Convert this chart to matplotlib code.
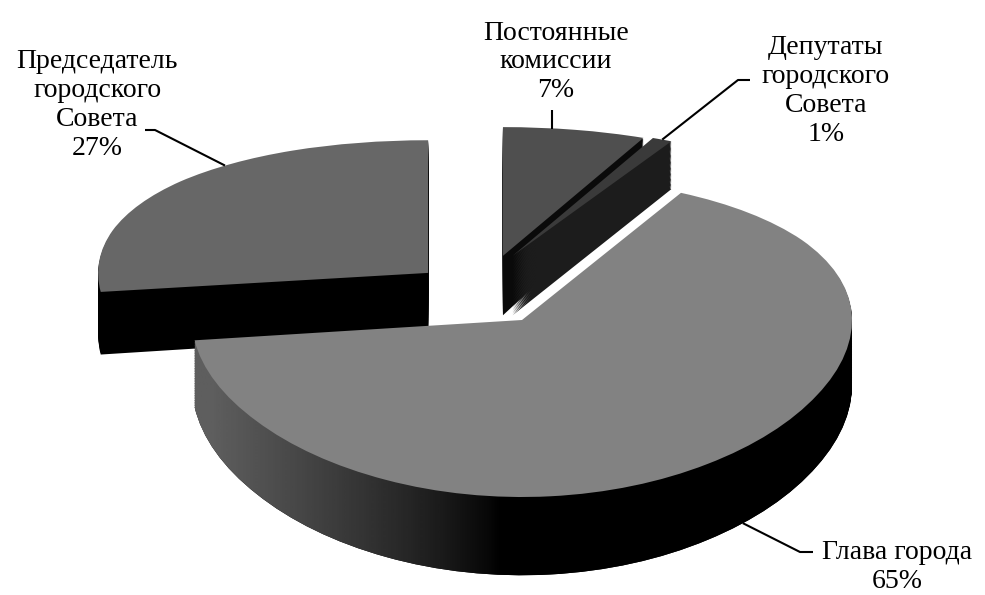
import numpy as np
import matplotlib
matplotlib.use("Agg")
import matplotlib.pyplot as plt
from matplotlib.path import Path

# ---- data ----
labels = ["Постоянные\nкомиссии", "Депутаты\nгородского\nСовета",
          "Глава города", "Председатель\nгородского\nСовета"]
values = [7, 1, 65, 27]
explode = [0.43, 0.47, 0.0, 0.46]
top_colors = ["#4f4f4f", "#3a3a3a", "#828282", "#676767"]
side_colors = ["#0a0a0a", "#1c1c1c", "#030303", "#000000"]
draw_order = [3, 0, 1, 2]   # back to front

W, H = 985, 595
fig = plt.figure(figsize=(W / 100, H / 100), dpi=100)
ax = fig.add_axes([0, 0, 1, 1])

# viewing geometry (pixels)
cx, cy, rx = 522, 320, 330
A, B = 160.0, 17.0          # vertical projection p(y) = A*y - B*y^2 (perspective)
depth = 0.39
n_layers = 40
dz = depth / n_layers
# horizontal placement of each exploded slice (perspective correction, pixels)
x_shift_px = [-50, -80, 0, 20]


def fwd(y):
    y = np.asarray(y, dtype=float)
    return A * y - B * y ** 2


def inv(p):
    p = np.asarray(p, dtype=float)
    d = np.clip(A * A - 4 * B * p, 0, None)
    return (A - np.sqrt(d)) / (2 * B)


def pie_layer(i, yoff, colors):
    wedges, _ = ax.pie(values, startangle=90, counterclock=False, explode=explode,
                       center=(x_shift_px[i] / rx, yoff), colors=colors,
                       wedgeprops=dict(linewidth=0), frame=True)
    for j, w in enumerate(wedges):
        if j != i:
            w.remove()
    return wedges[i]


side_paths = {i: [] for i in range(len(values))}
bottom = {}
tops = {}
for i in range(len(values)):
    z = 10 * draw_order.index(i)
    for k in range(n_layers, 0, -1):
        w = pie_layer(i, -k * dz, side_colors)
        w.set_zorder(z + 1)
        side_paths[i].append(w.get_path().transformed(w.get_patch_transform()))
        if k == n_layers:
            bottom[i] = w
    t = pie_layer(i, 0.0, top_colors)
    t.set_zorder(z + 3)
    tops[i] = t

ax.set_aspect("auto")
ax.set_yscale("function", functions=(fwd, inv))
xlim = (-cx / rx, (W - cx) / rx)
ylim = (float(inv(cy - H)), float(inv(cy)))
ax.set_xlim(*xlim)
ax.set_ylim(*ylim)

# shading of the big slice's side: grey on the left, black at the front
gi = 2
xs_px = np.linspace(0, W, 400)
shade = 0.37 * np.clip((500 - xs_px) / 290, 0, 1) ** 0.8
grad = np.tile(shade, (2, 1))
im = ax.imshow(grad, extent=(xlim[0], xlim[1], ylim[0], ylim[1]), cmap="gray",
               vmin=0, vmax=1, aspect="auto", origin="lower",
               zorder=10 * draw_order.index(gi) + 2, interpolation="bilinear")
im.set_clip_path(Path.make_compound_path(*side_paths[gi]), ax.transData)
ax.set_aspect("auto")
ax.set_xlim(*xlim)
ax.set_ylim(*ylim)
ax.axis("off")


def arc_point(w, ang):
    """pixel position (y down) of a point on a wedge's outer arc"""
    x = w.center[0] + w.r * np.cos(np.radians(ang))
    y = w.center[1] + w.r * np.sin(np.radians(ang))
    dx, dy = ax.transData.transform((x, y))
    return dx, H - dy


# ---- labels ----
ov = fig.add_axes([0, 0, 1, 1], facecolor="none")
ov.set_xlim(0, W)
ov.set_ylim(H, 0)
ov.axis("off")
font = dict(family=["Liberation Serif", "DejaVu Serif"], size=20, ha="center",
            va="center", linespacing=1.2, color="black")
label_pos = [(556, 62), (826, 91), (897, 567), (97, 105)]
for lab, v, (x, y) in zip(labels, values, label_pos):
    ov.text(x, y, f"{lab}\n{v}%", **font)

# leader lines: start near the label, end on the slice
ends = [arc_point(tops[0], 80), arc_point(tops[1], 63),
        arc_point(bottom[2], -48), arc_point(tops[3], 128)]
starts = [[(552, 110)], [(750, 80), (738, 80)], [(813, 552), (800, 552)],
          [(145, 130), (155, 130)]]
for st, en in zip(starts, ends):
    pts = st + [en]
    if len(st) == 1:
        pts = [st[0], (st[0][0], en[1])]
    xs, ys = zip(*pts)
    ov.plot(xs, ys, color="black", lw=1.5, solid_capstyle="butt")

fig.savefig("out.png", dpi=100, facecolor="white")
